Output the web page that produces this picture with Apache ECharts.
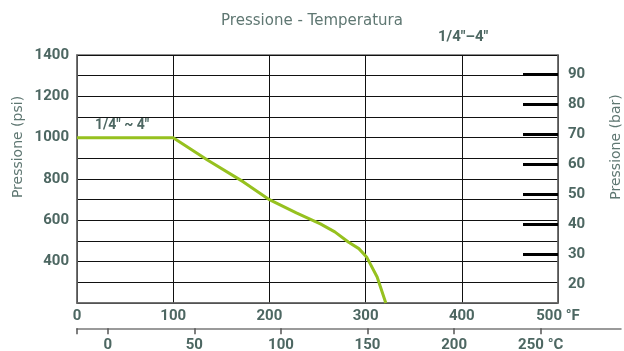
<!DOCTYPE html>
<html>
<head>
<meta charset="utf-8">
<script src="https://cdn.jsdelivr.net/npm/echarts@6/dist/echarts.min.js"></script>
<style>
  html, body { margin: 0; padding: 0; background: #fff; }
  #chart { width: 624px; height: 351px; }
</style>
</head>
<body>
<div id="chart"></div>
<script>
// curva pressione / temperatura (°F, psi)
const tempF = [0, 100, 136, 173, 200, 228, 253, 268, 282, 293, 301, 312, 321];
const pressPsi = [1000, 1000, 891, 786, 700, 636, 583, 544, 495, 463, 423, 326, 200];

// etichette assi
const psiLabels = [400, 600, 800, 1000, 1200, 1400];
const barLabels = [20, 30, 40, 50, 60, 70, 80, 90];
const barTicks = [30, 40, 50, 60, 70, 80, 90];
const celsiusLabels = [0, 50, 100, 150, 200, 250];

const PSI_PER_BAR = 14.5038;
const fMin = 0, fMax = 500;
const psiMin = 200, psiMax = 1400;

// griglia
const plotLeft = 77, plotRight = 66, plotTop = 55, plotBottom = 48;
const plotWidth = 624 - plotLeft - plotRight;
const cAxisRight = 3; // la scala °C si allunga fin quasi al bordo

// scala °C allineata a quella °F
const cMin = (fMin - 32) / 1.8;
const cMax = cMin + (fMax - fMin) / 1.8 * (624 - plotLeft - cAxisRight) / plotWidth;

const labelColor = '#4d6762';
const nameColor = '#5f7772';
const font = 'Roboto';

let myChart = echarts.init(document.getElementById('chart'));

let option = {
  backgroundColor: '#fff',
  animation: false,
  title: {
    text: 'Pressione - Temperatura',
    left: 'center',
    top: 9,
    textStyle: { color: nameColor, fontSize: 15, fontWeight: 'normal', fontFamily: 'DejaVu Sans' }
  },
  grid: [
    {
      left: plotLeft, right: plotRight, top: plotTop, bottom: plotBottom,
      show: true, borderColor: '#6a6a6a', borderWidth: 1.5, backgroundColor: 'transparent'
    },
    // solo per la scala in °C sotto al grafico
    { left: plotLeft, right: cAxisRight, top: 328, height: 1 }
  ],
  xAxis: [
    {
      type: 'value',
      gridIndex: 0,
      min: fMin,
      max: fMax,
      interval: 100,
      axisLine: { show: true, lineStyle: { color: '#6a6a6a', width: 1.5 } },
      axisTick: { show: false },
      splitLine: { show: true, lineStyle: { color: '#111', width: 1 } },
      axisLabel: {
        margin: 6,
        color: labelColor, fontSize: 15, fontWeight: 'bold', fontFamily: font,
        formatter: v => v === fMax ? v + ' °F' : String(v)
      }
    },
    {
      type: 'value',
      gridIndex: 1,
      position: 'bottom',
      min: cMin,
      max: cMax,
      axisLine: { show: true, lineStyle: { color: '#7a7a7a', width: 1.5 } },
      axisTick: {
        show: true, length: 6, inside: false,
        lineStyle: { color: '#555', width: 1.5 },
        customValues: [cMin].concat(celsiusLabels)
      },
      splitLine: { show: false },
      axisLabel: {
        margin: 9,
        color: labelColor, fontSize: 15, fontWeight: 'bold', fontFamily: font,
        customValues: celsiusLabels,
        formatter: v => v === 250 ? v + ' °C' : String(v)
      }
    }
  ],
  yAxis: [
    {
      type: 'value',
      gridIndex: 0,
      min: psiMin,
      max: psiMax,
      interval: 100,
      axisLine: { show: true, lineStyle: { color: '#6a6a6a', width: 1.5 } },
      axisTick: { show: false },
      splitLine: { show: true, lineStyle: { color: '#111', width: 1 } },
      axisLabel: {
        margin: 8,
        color: labelColor, fontSize: 15, fontWeight: 'bold', fontFamily: font,
        verticalAlign: 'middle',
        padding: [0, 0, 6, 0],
        customValues: psiLabels,
        formatter: v => String(v)
      }
    },
    {
      type: 'value',
      gridIndex: 0,
      position: 'right',
      min: psiMin / PSI_PER_BAR,
      max: psiMax / PSI_PER_BAR,
      axisLine: { show: true, lineStyle: { color: '#6a6a6a', width: 1.5 } },
      axisTick: {
        show: true, inside: true, length: 35,
        lineStyle: { color: '#000', width: 3 },
        customValues: barTicks
      },
      splitLine: { show: false },
      axisLabel: {
        margin: 10,
        color: labelColor, fontSize: 15, fontWeight: 'bold', fontFamily: font,
        customValues: barLabels,
        formatter: v => String(v)
      }
    },
    {
      type: 'value',
      gridIndex: 1,
      show: false
    }
  ],
  series: [
    {
      name: '1/4"~4"',
      type: 'line',
      xAxisIndex: 0,
      yAxisIndex: 0,
      data: tempF.map((t, i) => [t, pressPsi[i]]),
      showSymbol: false,
      smooth: false,
      lineStyle: { color: '#96c11f', width: 3 },
      z: 5
    }
  ],
  graphic: [
    {
      type: 'text',
      left: 95, top: 118,
      style: { text: '1/4" ~ 4"', fill: labelColor, font: 'bold 14px Roboto' }
    },
    {
      type: 'text',
      left: 438, top: 30,
      style: { text: '1/4"–4"', fill: labelColor, font: 'bold 15px Roboto' }
    },
    {
      type: 'text',
      x: 18, y: 147,
      rotation: Math.PI / 2,
      style: {
        text: 'Pressione (psi)', fill: nameColor, font: '14px "DejaVu Sans"',
        align: 'center', verticalAlign: 'middle'
      }
    },
    {
      type: 'text',
      x: 616, y: 147,
      rotation: Math.PI / 2,
      style: {
        text: 'Pressione (bar)', fill: nameColor, font: '14px "DejaVu Sans"',
        align: 'center', verticalAlign: 'middle'
      }
    }
  ]
};

myChart.setOption(option, true);
</script>
</body>
</html>
